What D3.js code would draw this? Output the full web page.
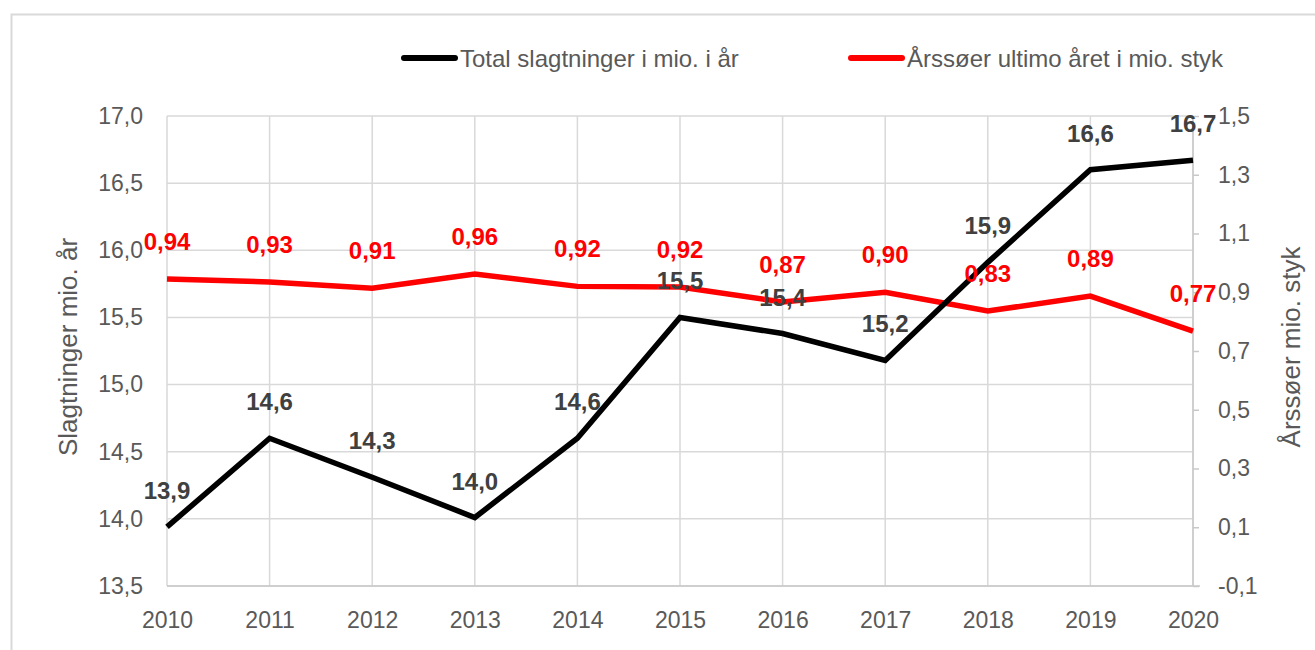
<!DOCTYPE html>
<html>
<head>
<meta charset="utf-8">
<script src="https://cdn.jsdelivr.net/npm/d3@7"></script>
<style>
  body { margin: 0; background: #fff; }
  text { font-family: "Liberation Sans", Arial, sans-serif; }
</style>
</head>
<body>
<svg id="chart" width="1315" height="650"></svg>
<script>
const years = [2010, 2011, 2012, 2013, 2014, 2015, 2016, 2017, 2018, 2019, 2020];
const slagtninger = [13.94, 14.60, 14.31, 14.01, 14.60, 15.50, 15.38, 15.18, 15.91, 16.60, 16.67];
const slagtLabels = ["13,9", "14,6", "14,3", "14,0", "14,6", "15,5", "15,4", "15,2", "15,9", "16,6", "16,7"];
const soer = [0.945, 0.935, 0.914, 0.962, 0.920, 0.918, 0.867, 0.900, 0.836, 0.887, 0.768];
const soerLabels = ["0,94", "0,93", "0,91", "0,96", "0,92", "0,92", "0,87", "0,90", "0,83", "0,89", "0,77"];
const leftTicks = [13.5, 14.0, 14.5, 15.0, 15.5, 16.0, 16.5, 17.0];
const rightTicks = [-0.1, 0.1, 0.3, 0.5, 0.7, 0.9, 1.1, 1.3, 1.5];
const seriesNames = ["Total slagtninger i mio. i år", "Årssøer ultimo året i mio. styk"];

const svg = d3.select("#chart");
const plotLeft = 167, plotRight = 1193, plotTop = 116, plotBottom = 586;
const grid = "#d9d9d9", tickCol = "#595959";
const comma = v => v.toFixed(1).replace(".", ",");
const font = "Liberation Sans, Arial, sans-serif";

// outer frame
svg.append("rect")
    .attr("x", 11.5).attr("y", 14.5)
    .attr("width", 1330).attr("height", 700)
    .attr("fill", "none").attr("stroke", grid).attr("stroke-width", 2);

const x = d3.scalePoint().domain(years).range([plotLeft, plotRight]);
const yL = d3.scaleLinear().domain([13.5, 17.0]).range([plotBottom, plotTop]);
const yR = d3.scaleLinear().domain([-0.1, 1.5]).range([plotBottom, plotTop]);

// horizontal grid
svg.append("g").selectAll("line")
    .data(leftTicks)
    .enter().append("line")
    .attr("x1", plotLeft).attr("x2", plotRight)
    .attr("y1", d => yL(d)).attr("y2", d => yL(d))
    .attr("stroke", grid).attr("stroke-width", 1.5);

// vertical grid
svg.append("g").selectAll("line")
    .data(years)
    .enter().append("line")
    .attr("x1", d => x(d)).attr("x2", d => x(d))
    .attr("y1", plotTop).attr("y2", plotBottom)
    .attr("stroke", grid).attr("stroke-width", 1.5);

// bottom axis line
svg.append("line")
    .attr("x1", plotLeft).attr("x2", plotRight + 7)
    .attr("y1", plotBottom).attr("y2", plotBottom)
    .attr("stroke", "#c8c8c8").attr("stroke-width", 1.5);

// left axis
const leftAxis = svg.append("g")
    .attr("transform", `translate(${plotLeft},0)`)
    .call(d3.axisLeft(yL).tickValues(leftTicks).tickFormat(comma).tickSize(0).tickPadding(24));
leftAxis.select(".domain").remove();
leftAxis.selectAll("text")
    .attr("font-size", 23).attr("fill", tickCol).attr("font-family", font);

// right axis
const rightAxis = svg.append("g")
    .attr("transform", `translate(${plotRight},0)`)
    .call(d3.axisRight(yR).tickValues(rightTicks).tickFormat(comma).tickSize(6).tickPadding(19));
rightAxis.select(".domain").attr("stroke", "#c8c8c8").attr("stroke-width", 1.5)
    .attr("d", `M0,${plotTop}V${plotBottom}`);
rightAxis.selectAll(".tick line").attr("stroke", "#c8c8c8").attr("stroke-width", 1.5);
rightAxis.selectAll("text")
    .attr("font-size", 23).attr("fill", tickCol).attr("font-family", font);

// bottom axis labels
const xAxis = svg.append("g")
    .attr("transform", `translate(0,${plotBottom})`)
    .call(d3.axisBottom(x).tickSize(0).tickPadding(26));
xAxis.select(".domain").remove();
xAxis.selectAll("text")
    .attr("font-size", 23).attr("fill", tickCol).attr("font-family", font);

// axis titles
svg.append("text")
    .attr("transform", "translate(77,347) rotate(-90)")
    .attr("text-anchor", "middle")
    .attr("font-size", 26).attr("fill", tickCol)
    .text("Slagtninger mio. år");
svg.append("text")
    .attr("transform", "translate(1300,347) rotate(-90)")
    .attr("text-anchor", "middle")
    .attr("font-size", 26).attr("fill", tickCol)
    .text("Årssøer mio. styk");

// lines
const lineL = d3.line().x((d, i) => x(years[i])).y(d => yL(d));
const lineR = d3.line().x((d, i) => x(years[i])).y(d => yR(d));

svg.append("path")
    .datum(soer)
    .attr("d", lineR)
    .attr("fill", "none").attr("stroke", "#ff0000").attr("stroke-width", 5.5);

svg.append("path")
    .datum(slagtninger)
    .attr("d", lineL)
    .attr("fill", "none").attr("stroke", "#000").attr("stroke-width", 5.5);

// data labels
svg.append("g").selectAll("text")
    .data(slagtninger)
    .enter().append("text")
    .attr("x", (d, i) => x(years[i]))
    .attr("y", d => yL(d) - 28)
    .attr("text-anchor", "middle")
    .attr("font-size", 24).attr("font-weight", "bold").attr("fill", "#404040")
    .text((d, i) => slagtLabels[i]);

svg.append("g").selectAll("text")
    .data(soer)
    .enter().append("text")
    .attr("x", (d, i) => x(years[i]))
    .attr("y", d => yR(d) - 29)
    .attr("text-anchor", "middle")
    .attr("font-size", 24).attr("font-weight", "bold").attr("fill", "#ff0000")
    .text((d, i) => soerLabels[i]);

// legend
const legend = svg.append("g");
const legendItems = [
    { name: seriesNames[0], color: "#000", x: 404 },
    { name: seriesNames[1], color: "#ff0000", x: 851 }
];
legendItems.forEach(it => {
    legend.append("line")
        .attr("x1", it.x).attr("x2", it.x + 51)
        .attr("y1", 58).attr("y2", 58)
        .attr("stroke", it.color).attr("stroke-width", 6).attr("stroke-linecap", "round");
    legend.append("text")
        .attr("x", it.x + 56).attr("y", 67)
        .attr("font-size", 24).attr("fill", tickCol)
        .text(it.name);
});
</script>
</body>
</html>
